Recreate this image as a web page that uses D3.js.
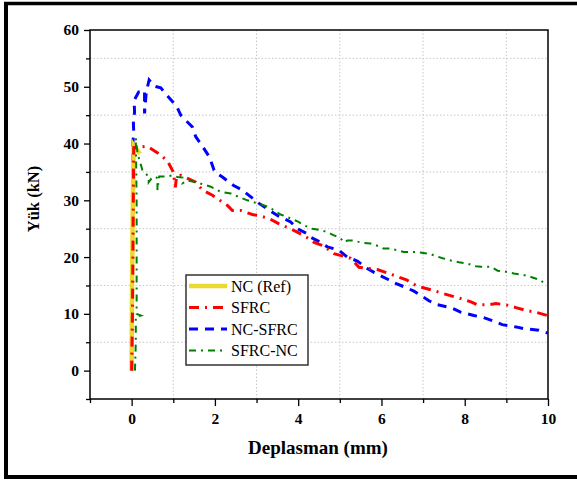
<!DOCTYPE html>
<html>
<head>
<meta charset="utf-8">
<script src="https://cdn.jsdelivr.net/npm/d3@7"></script>
<style>
  body { margin: 0; background: #fff; }
  svg text { font-family: "Liberation Serif", "Times New Roman", serif; }
</style>
</head>
<body>
<svg class="chart" width="577" height="480"></svg>
<script>
// series names
const seriesNames = ["NC (Ref)", "SFRC", "NC-SFRC", "SFRC-NC"];

// NC (Ref)
const ncRefX = [0, 0.01, 0.03, 0.05, 0.2];
const ncRefY = [0, 15, 30, 39.7, 38.2];

// SFRC
const sfrcX = [0, 0.02, 0.04, 0.05, 0.38, 0.55, 0.7, 0.87, 1.0, 1.05, 1.08, 1.18, 1.54, 1.7, 1.94, 2.3, 2.42, 2.62, 2.9, 3.05, 3.3, 3.53, 3.98, 4.2, 4.38, 4.6, 4.86, 5.26, 5.46, 5.9, 6.1, 6.37, 6.6, 6.83, 7.05, 7.26, 7.47, 7.9, 8.15, 8.3, 8.55, 8.75, 8.99, 9.23, 9.47, 9.7, 9.99];
const sfrcY = [0, 10, 30, 39.3, 39.5, 38.7, 38, 36.8, 35, 32.3, 34.3, 34.4, 33.2, 31.8, 30.9, 29.1, 28.2, 28.2, 27.5, 27.3, 26.8, 25.9, 24.4, 23.5, 22.6, 22, 20.6, 19.8, 18.2, 17.8, 17.3, 16.6, 16, 15, 14.5, 14.1, 13.6, 12.7, 12.1, 11.6, 11.6, 11.8, 11.6, 11.1, 10.6, 10.3, 9.7];

// NC-SFRC
const ncSfrcX = [0, 0.02, 0.03, 0.05, 0.04, 0.07, 0.06, 0.17, 0.26, 0.31, 0.31, 0.35, 0.42, 0.55, 0.7, 0.86, 1.08, 1.18, 1.46, 1.54, 1.73, 1.87, 1.98, 2.06, 2.18, 2.45, 2.66, 2.93, 3.05, 3.38, 3.53, 3.82, 3.98, 4.22, 4.3, 4.54, 4.7, 4.98, 5.18, 5.42, 5.66, 5.87, 6.15, 6.3, 6.63, 6.78, 7.02, 7.14, 7.35, 7.7, 7.9, 8.22, 8.43, 8.7, 8.9, 9.23, 9.42, 9.78, 10];
const ncSfrcY = [0, 20, 40, 42, 44, 45.5, 47.6, 49.1, 49.1, 49.3, 45.3, 49, 51.2, 50.1, 49.8, 48.4, 46.6, 45, 42.9, 41.2, 39.2, 37.6, 35.3, 34.7, 34.1, 32.6, 31.8, 30.2, 29.5, 27.9, 27.2, 26.2, 25, 24.1, 23.5, 22.6, 21.8, 21.2, 20, 19.3, 18, 17.1, 16.1, 15.5, 14.5, 14, 12.9, 12.3, 11.6, 11, 10.3, 9.7, 9.4, 8.7, 8.1, 7.7, 7.4, 7.1, 6.6];

// SFRC-NC
const sfrcNcX = [0.08, 0.1, 0.1, 0.22, 0.12, 0.12, 0.12, 0.1, 0.14, 0.26, 0.29, 0.41, 0.41, 0.5, 0.58, 0.62, 0.62, 0.66, 0.86, 0.98, 1.1, 1.22, 1.22, 1.34, 1.54, 1.9, 2.14, 2.38, 2.57, 2.78, 3.05, 3.3, 3.58, 3.65, 3.82, 4.01, 4.13, 4.34, 4.58, 4.78, 5.02, 5.1, 5.18, 5.34, 5.54, 5.74, 5.9, 6.05, 6.2, 6.38, 6.54, 6.83, 7.19, 7.3, 7.47, 7.67, 7.86, 8.03, 8.27, 8.39, 8.63, 8.79, 8.94, 9.06, 9.18, 9.39, 9.59, 9.83, 9.95];
const sfrcNcY = [0, 5, 9.5, 9.7, 10, 20, 30, 41, 38.3, 35.3, 35, 34.2, 33.2, 34.1, 34.1, 33.9, 31.8, 34.2, 34.2, 34.4, 34.1, 34, 33, 33.5, 33.2, 32.4, 31.5, 31.2, 30.6, 30, 29.4, 28.8, 27.5, 27.3, 26.8, 26.2, 25.6, 25, 24.7, 24.1, 23.3, 22.6, 22.9, 22.9, 22.5, 22.4, 22, 21.5, 21.5, 21.2, 20.9, 20.9, 20.5, 20.2, 19.8, 19.4, 19.1, 18.9, 18.4, 18.3, 18.3, 17.6, 17.5, 17.3, 17.1, 16.9, 16.5, 15.9, 15];

// ticks
const xMajorTicks = [0, 2, 4, 6, 8, 10];
const xMinorTicks = [-1, 1, 3, 5, 7, 9];
const yMajorTicks = [0, 10, 20, 30, 40, 50, 60];
const yMinorTicks = [-5, 5, 15, 25, 35, 45, 55];

const svg = d3.select("svg.chart");

// outer frame (left, top, bottom)
svg.append("line").attr("x1", 6).attr("x2", 6).attr("y1", 2).attr("y2", 479)
    .attr("stroke", "#000").attr("stroke-width", 4);
svg.append("line").attr("x1", 4).attr("x2", 577).attr("y1", 3.5).attr("y2", 3.5)
    .attr("stroke", "#000").attr("stroke-width", 3.5);
svg.append("line").attr("x1", 4).attr("x2", 577).attr("y1", 477).attr("y2", 477)
    .attr("stroke", "#000").attr("stroke-width", 4);

var margin = {left: 90, top: 30},
    width = 548 - 90,
    height = 399 - 30;

const g = svg.append("g")
    .attr("transform", "translate(" + margin.left + "," + margin.top + ")");

var x = d3.scaleLinear().domain([-1, 10]).range([0, width]);
var y = d3.scaleLinear().domain([-5, 60]).range([height, 0]);

// grid lines at minor ticks
g.selectAll(".gx").data(xMinorTicks.filter(d => d > -1)).enter().append("line")
    .attr("x1", d => x(d)).attr("x2", d => x(d))
    .attr("y1", 0).attr("y2", height)
    .attr("stroke", "#c8c8c8").attr("stroke-width", 1).attr("stroke-dasharray", "1.5,2");
g.selectAll(".gy").data(yMinorTicks.filter(d => d > -5)).enter().append("line")
    .attr("x1", 0).attr("x2", width)
    .attr("y1", d => y(d)).attr("y2", d => y(d))
    .attr("stroke", "#c8c8c8").attr("stroke-width", 1).attr("stroke-dasharray", "1.5,2");

// axes
const xAxis = g.append("g")
    .attr("transform", "translate(0," + height + ")")
    .call(d3.axisBottom(x).tickValues(xMajorTicks).tickSize(7).tickPadding(7).tickFormat(d3.format("d")));
const xMinor = g.append("g")
    .attr("transform", "translate(0," + height + ")")
    .call(d3.axisBottom(x).tickValues(xMinorTicks).tickSize(4).tickFormat(""));
const yAxis = g.append("g")
    .call(d3.axisLeft(y).tickValues(yMajorTicks).tickSize(6).tickPadding(5).tickFormat(d3.format("d")));
const yMinor = g.append("g")
    .call(d3.axisLeft(y).tickValues(yMinorTicks).tickSize(4).tickFormat(""));

[xAxis, xMinor, yAxis, yMinor].forEach(a => {
    a.select(".domain").remove();
    a.selectAll("line").attr("stroke", "#000").attr("stroke-width", 1.3);
    a.selectAll("text").attr("fill", "#000")
        .style("font-family", "'Liberation Serif', serif")
        .style("font-size", "15.5px").style("font-weight", "bold");
});

// plot box
g.append("rect").attr("x", 0).attr("y", 0).attr("width", width).attr("height", height)
    .attr("fill", "none").attr("stroke", "#000").attr("stroke-width", 1.5);

// clip
g.append("clipPath").attr("id", "clip").append("rect")
    .attr("width", width).attr("height", height);

const line = d3.line().x(d => x(d[0])).y(d => y(d[1]));
const zip = (a, b) => a.map((v, i) => [v, b[i]]);

const series = [
    {name: seriesNames[2], pts: zip(ncSfrcX, ncSfrcY), color: "#0000ff", w: 3, dash: "9,7"},
    {name: seriesNames[0], pts: zip(ncRefX, ncRefY), color: "#e8da2e", w: 4.5, dash: null},
    {name: seriesNames[1], pts: zip(sfrcX, sfrcY), color: "#ff0000", w: 3, dash: "10,6,2,6"},
    {name: seriesNames[3], pts: zip(sfrcNcX, sfrcNcY), color: "#008000", w: 2, dash: "7,5,2,5"}
];

const plot = g.append("g").attr("clip-path", "url(#clip)");
series.forEach(s => {
    plot.append("path")
        .attr("d", line(s.pts))
        .attr("fill", "none")
        .attr("stroke", s.color)
        .attr("stroke-width", s.w)
        .attr("stroke-dasharray", s.dash);
});

// axis titles
svg.append("text")
    .attr("x", 318).attr("y", 454)
    .attr("text-anchor", "middle")
    .style("font-size", "19px").style("font-weight", "bold")
    .text("Deplasman (mm)");
svg.append("text")
    .attr("transform", "translate(39,199) rotate(-90)")
    .attr("text-anchor", "middle")
    .style("font-size", "16.5px").style("font-weight", "bold")
    .text("Yük (kN)");

// legend
const legendOrder = [1, 2, 0, 3];
const leg = svg.append("g").attr("transform", "translate(186,275)");
leg.append("rect").attr("width", 122).attr("height", 90)
    .attr("fill", "#fff").attr("stroke", "#333").attr("stroke-width", 1.5);
const bySeries = {};
series.forEach(s => bySeries[s.name] = s);
seriesNames.forEach((n, i) => {
    const s = bySeries[n];
    const yy = 11 + i * 21.5;
    leg.append("line")
        .attr("x1", 3).attr("x2", 41).attr("y1", yy).attr("y2", yy)
        .attr("stroke", s.color).attr("stroke-width", s.w)
        .attr("stroke-dasharray", s.dash);
    leg.append("text")
        .attr("x", 45).attr("y", yy + 5.5)
        .style("font-size", "16px")
        .text(n);
});
</script>
</body>
</html>
